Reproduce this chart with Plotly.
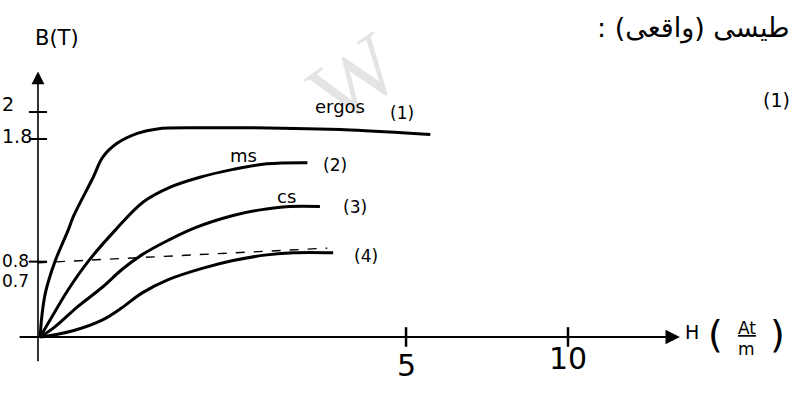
import plotly.graph_objects as go

# B-H magnetisation curves (axis units as drawn)
H_ergos = [0.03, 0.05, 0.1, 0.23, 0.41, 0.48, 0.75, 0.88, 1.07, 1.35, 1.62, 2.2, 2.88, 4.24, 5.33]
B_ergos = [0, 0.17, 0.39, 0.67, 0.95, 1.07, 1.42, 1.6, 1.72, 1.81, 1.85, 1.86, 1.86, 1.84, 1.80]

H_ms = [0.03, 0.19, 0.41, 0.68, 1.05, 1.43, 1.79, 2.2, 2.65, 3.11, 3.66]
B_ms = [0, 0.18, 0.42, 0.67, 0.95, 1.2, 1.33, 1.42, 1.49, 1.54, 1.55]

H_cs = [0.03, 0.23, 0.54, 0.87, 1.14, 1.41, 1.77, 2.13, 2.65, 3.02, 3.42, 3.83]
B_cs = [0, 0.09, 0.27, 0.44, 0.6, 0.73, 0.86, 0.97, 1.08, 1.13, 1.16, 1.16]

H_4 = [0.03, 0.23, 0.5, 0.87, 1.14, 1.41, 1.77, 2.23, 2.65, 3.11, 3.47, 4.01]
B_4 = [0, 0.02, 0.06, 0.15, 0.26, 0.39, 0.51, 0.61, 0.68, 0.73, 0.75, 0.75]

# dashed guide at 0.8 T
H_dash = [0, 3.93]
B_dash = [0.66, 0.79]

# ticks as placed in the sketch
H_tick_pos = [5, 7.2]
H_tick_text = ['5', '10']
B_tick_pos = [2.07, 1.79, 0.68, 0.5]
B_tick_text = ['2', '1.8', '0.8', '0.7']
B_tick_marks = [2.0, 1.76, 0.67]

curves = [
    (H_ergos, B_ergos, 'ergos (1)', 'ergos', '(1)', 4.10, 2.05, 4.95, 1.99),
    (H_ms, B_ms, 'ms (2)', 'ms', '(2)', 2.79, 1.61, 4.04, 1.53),
    (H_cs, B_cs, 'cs (3)', 'cs', '(3)', 3.38, 1.25, 4.31, 1.16),
    (H_4, B_4, '(4)', '', '(4)', 0, 0, 4.46, 0.72),
]

fig = go.Figure()

fig.add_trace(go.Scatter(
    x=H_dash, y=B_dash, mode='lines',
    line=dict(color='black', width=1.4, dash='dash'),
    hoverinfo='skip', showlegend=False,
))

annotations = [
    # faint watermark
    dict(x=0.447, y=0.8, xref='paper', yref='paper', text='W', showarrow=False,
         xanchor='center', yanchor='middle', textangle=-35,
         font=dict(size=90, family='Liberation Serif', color='#e4e4e4')),
]
for h, b, name, lab, num, lx, ly, nx, ny in curves:
    fig.add_trace(go.Scatter(
        x=h, y=b, mode='lines', name=name,
        line=dict(color='black', width=3, shape='spline', smoothing=1.0),
        hovertemplate='H: %{x}<br>B: %{y}<extra>' + name + '</extra>',
        showlegend=False,
    ))
    if lab:
        annotations.append(dict(x=lx, y=ly, text=lab, showarrow=False,
                                font=dict(size=18)))
    annotations.append(dict(x=nx, y=ny, text=num, showarrow=False,
                            font=dict(size=17)))

# tick marks
fig.add_trace(go.Scatter(
    x=[0] * len(B_tick_marks), y=B_tick_marks, mode='markers',
    marker=dict(symbol='line-ew', size=13, line=dict(color='black', width=2)),
    hoverinfo='skip', showlegend=False,
))
fig.add_trace(go.Scatter(
    x=H_tick_pos, y=[0] * len(H_tick_pos), mode='markers',
    marker=dict(symbol='line-ns', size=14, line=dict(color='black', width=2.5)),
    hoverinfo='skip', showlegend=False,
))

# axes with arrow heads
annotations += [
    dict(x=0, y=2.36, ax=0, ay=-0.23, xref='x', yref='y', axref='x', ayref='y',
         text='', showarrow=True, arrowhead=2, arrowsize=1.6, arrowwidth=1.6,
         arrowcolor='black'),
    dict(x=8.72, y=0, ax=-0.27, ay=0, xref='x', yref='y', axref='x', ayref='y',
         text='', showarrow=True, arrowhead=2, arrowsize=1.6, arrowwidth=1.8,
         arrowcolor='black'),
]

for pos, txt in zip(H_tick_pos, H_tick_text):
    annotations.append(dict(x=pos, y=0, text=txt, showarrow=False,
                            yshift=-29 if txt == '5' else -22,
                            font=dict(size=30)))
for pos, txt in zip(B_tick_pos, B_tick_text):
    annotations.append(dict(x=0, y=pos, xref='paper', yref='y', text=txt,
                            showarrow=False, xanchor='left', yanchor='middle',
                            font=dict(size=19 if txt in ('2', '1.8') else 17)))

annotations += [
    dict(x=0.26, y=2.66, text='B(T)', showarrow=False, font=dict(size=21)),
    dict(x=8.89, y=0.04, text='H', showarrow=False, font=dict(size=19)),
    dict(x=9.20, y=0.03, text='(', showarrow=False, font=dict(size=38)),
    dict(x=10.04, y=0.03, text=')', showarrow=False, font=dict(size=38)),
    dict(x=9.63, y=0.08, text='<u>At</u>', showarrow=False, font=dict(size=17)),
    dict(x=9.63, y=-0.11, text='m', showarrow=False, font=dict(size=17)),
    dict(x=0.998, y=0.93, xref='paper', yref='paper', xanchor='right', yanchor='middle',
         text='\u202bطيسى (واقعى) :\u202c', showarrow=False, font=dict(size=27)),
    dict(x=0.998, y=0.746, xref='paper', yref='paper', xanchor='right', yanchor='middle',
         text='(1)', showarrow=False, font=dict(size=19)),
]

fig.update_layout(
    width=794, height=393,
    margin=dict(l=0, r=0, t=0, b=0),
    paper_bgcolor='white', plot_bgcolor='white',
    font=dict(family='DejaVu Sans', color='black'),
    annotations=annotations,
    showlegend=False,
    xaxis=dict(range=[-0.516, 10.27], visible=False, fixedrange=True),
    yaxis=dict(range=[-0.498, 2.996], visible=False, fixedrange=True),
)

fig.write_html("out.html", config={'displayModeBar': False},
               post_script="document.body.style.margin='0px';")
